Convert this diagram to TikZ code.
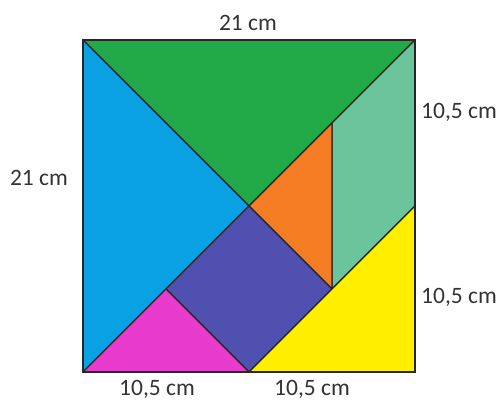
\documentclass[tikz,border=0pt]{standalone}
\usepackage{fontspec}
\setmainfont{Carlito}
\definecolor{cgreen}{HTML}{22AA48}
\definecolor{cblue}{HTML}{0AA0E4}
\definecolor{corange}{HTML}{F47C22}
\definecolor{clgreen}{HTML}{6CC49C}
\definecolor{cpurple}{HTML}{5050B0}
\definecolor{cmagenta}{HTML}{E83ACC}
\definecolor{cyellow}{HTML}{FFEE00}
\definecolor{ctext}{HTML}{333333}
\tikzset{
  piece/.style={draw=black!85, line width=1.3pt, line join=round},
  lbl/.style={font=\fontsize{23.5}{26}\selectfont, text=ctext, inner sep=0pt}
}
\begin{document}
\begin{tikzpicture}[x=1pt,y=-1pt]
\useasboundingbox (0,0) rectangle (504,401);
% vertices
\coordinate (A) at (83,40);
\coordinate (B) at (415,40);
\coordinate (C) at (415,372);
\coordinate (D) at (83,372);
\coordinate (O) at (249,206);
\coordinate (E) at (415,206);
\coordinate (F) at (249,372);
\coordinate (P) at (332,123);
\coordinate (Q) at (332,289);
\coordinate (R) at (166,289);
% pieces
\filldraw[piece, fill=cgreen] (A) -- (B) -- (O) -- cycle;
\filldraw[piece, fill=cblue] (A) -- (O) -- (D) -- cycle;
\filldraw[piece, fill=clgreen] (B) -- (E) -- (Q) -- (P) -- cycle;
\filldraw[piece, fill=corange] (O) -- (P) -- (Q) -- cycle;
\filldraw[piece, fill=cpurple] (O) -- (Q) -- (F) -- (R) -- cycle;
\filldraw[piece, fill=cmagenta] (D) -- (R) -- (F) -- cycle;
\filldraw[piece, fill=cyellow] (F) -- (C) -- (E) -- cycle;
\draw[draw=black!85, line width=2pt, line join=miter] (A) rectangle (C);
% labels
\node[lbl] (ltop) at (248,23) {21 cm};
\node[lbl] (lleft) at (39,178) {21 cm};
\node[lbl, anchor=west] (lr1) at (421,112) {10,5 cm};
\node[lbl, anchor=west] (lr2) at (421,297) {10,5 cm};
\node[lbl] (lb1) at (157,389) {10,5 cm};
\node[lbl] (lb2) at (312,389) {10,5 cm};
\end{tikzpicture}
\end{document}
